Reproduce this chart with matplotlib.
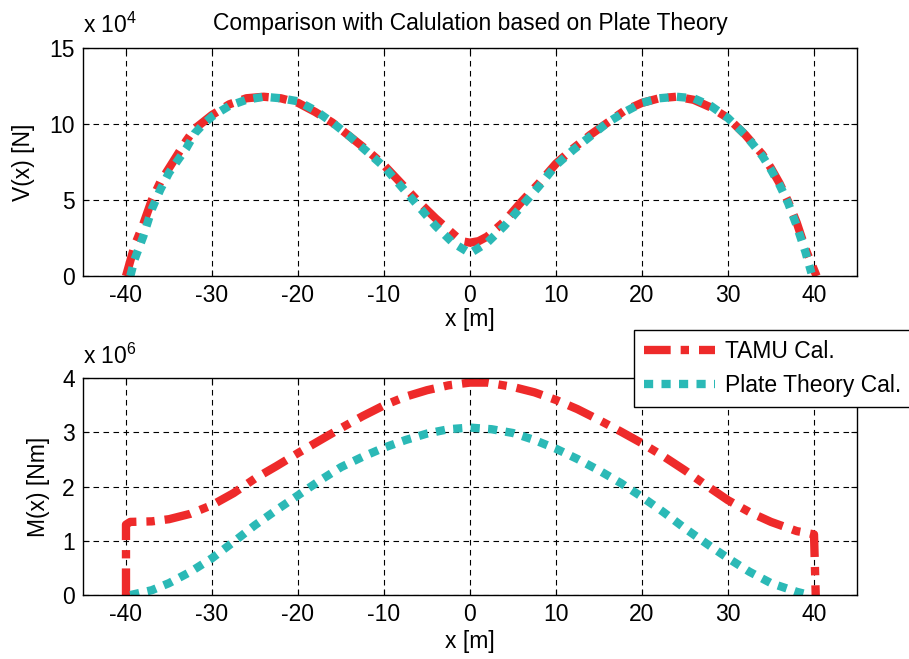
import numpy as np
import matplotlib
matplotlib.use("Agg")
import matplotlib.pyplot as plt

plt.rcParams['font.family'] = ['Liberation Sans', 'DejaVu Sans']
plt.rcParams['font.size'] = 16.5
plt.rcParams['axes.unicode_minus'] = False
plt.rcParams['mathtext.fontset'] = 'custom'
plt.rcParams['mathtext.rm'] = 'Liberation Sans'

red = '#ee2a2a'
teal = '#2bb9b6'

# shear force V(x), units of 1e4 N
xv_tamu = [-40, -39, -38, -37, -36, -35, -34, -33, -32, -30, -28, -26, -24, -22,
           -20, -18, -16, -14, -12, -10, -8, -6, -4, -2, -1, 0, 1, 2, 4, 6, 8,
           10, 12, 14, 16, 18, 20, 22, 24, 26, 28, 30, 32, 34, 35, 36, 37, 38,
           39, 40.3]
v_tamu = [0, 2.0, 3.4, 5.0, 6.2, 7.1, 8.0, 8.9, 9.7, 10.6, 11.3, 11.7, 11.8, 11.7,
          11.4, 10.8, 10.1, 9.2, 8.3, 7.3, 6.1, 4.9, 3.8, 2.8, 2.3, 2.2, 2.3, 2.6,
          3.6, 4.9, 6.1, 7.4, 8.4, 9.3, 10.1, 10.9, 11.4, 11.7, 11.8, 11.6, 11.1,
          10.4, 9.3, 8.0, 7.1, 6.1, 4.9, 3.5, 1.8, 0]

xv_plate = [-39.5, -39, -38, -37, -36, -35, -34, -33, -32, -31, -30, -28, -26,
            -24, -22, -20, -18, -16, -14, -12, -10, -8, -6, -4, -2, 0, 2, 4, 6,
            8, 10, 12, 14, 16, 18, 20, 22, 24, 26, 28, 30, 32, 34, 35, 36, 37,
            38, 39, 39.7]
v_plate = [0, 1.1, 2.6, 4.4, 5.7, 6.8, 7.6, 8.4, 9.4, 10.0, 10.5, 11.2, 11.6,
           11.8, 11.7, 11.5, 10.9, 10.1, 9.2, 8.2, 7.2, 5.9, 4.6, 3.3, 2.2, 1.5,
           2.2, 3.3, 4.6, 5.9, 7.3, 8.3, 9.2, 10.1, 10.8, 11.4, 11.7, 11.8, 11.7,
           11.2, 10.4, 9.3, 7.9, 7.0, 6.0, 4.8, 3.3, 1.6, 0.2]

# bending moment M(x), units of 1e6 Nm
xm_tamu = [-40, -40, -39.5, -37, -35, -32.5, -30, -27.5, -25, -22.5, -20, -17.5,
           -15, -12.5, -10, -7.5, -5, -2.5, 0, 2, 5, 7.5, 10, 12.5, 15, 17.5, 20,
           22.5, 25, 27.5, 30, 32.5, 35, 38, 40, 40.2]
m_tamu = [0, 1.3, 1.35, 1.36, 1.4, 1.5, 1.66, 1.88, 2.15, 2.38, 2.62, 2.85, 3.08,
          3.3, 3.5, 3.66, 3.78, 3.87, 3.92, 3.92, 3.84, 3.74, 3.6, 3.43, 3.23, 3.02,
          2.8, 2.56, 2.3, 2.02, 1.75, 1.53, 1.35, 1.18, 1.12, 0]

xm_plate = [-39.5, -37, -35, -32.5, -30, -27.5, -25, -22.5, -20, -17.5, -15,
            -12.5, -10, -7.5, -5, -2.5, 0, 2.5, 5, 7.5, 10, 12.5, 15, 17.5, 20,
            22.5, 25, 27.5, 30, 32.5, 35, 38, 39.5]
m_plate = [0, 0.09, 0.22, 0.43, 0.68, 0.98, 1.29, 1.57, 1.84, 2.11, 2.36, 2.55,
           2.72, 2.86, 2.98, 3.06, 3.09, 3.06, 2.99, 2.86, 2.7, 2.51, 2.3, 2.07,
           1.81, 1.53, 1.23, 0.95, 0.68, 0.43, 0.22, 0.06, 0]

fig = plt.figure(figsize=(9.09, 6.59), dpi=100, facecolor='white')
ax1 = fig.add_axes([0.0913, 0.581, 0.8515, 0.346])
ax2 = fig.add_axes([0.0913, 0.097, 0.8515, 0.329])

tamu_style = dict(color=red, lw=6, dashes=(3.2, 1.2, 1.0, 1.2))
plate_style = dict(color=teal, lw=6, dashes=(1.1, 1.0))

ax1.plot(xv_tamu, v_tamu, label='TAMU Cal.', **tamu_style)
ax1.plot(xv_plate, v_plate, label='Plate Theory Cal.', **plate_style)
ax2.plot(xm_tamu, m_tamu, label='TAMU Cal.', **tamu_style)
ax2.plot(xm_plate, m_plate, label='Plate Theory Cal.', **plate_style)

for ax in (ax1, ax2):
    ax.set_xlim(-45, 45)
    ax.set_xticks(np.arange(-40, 41, 10))
    ax.grid(True, color='black', linestyle=(0, (5, 4)), linewidth=0.8)
    ax.tick_params(direction='in', top=True, right=True, length=4, width=0.8,
                   pad=6)
    for s in ax.spines.values():
        s.set_linewidth(1.0)
    ax.set_xlabel('x [m]')

ax1.set_ylim(0, 15)
ax1.set_yticks([0, 5, 10, 15])
ax1.set_ylabel('V(x) [N]')
ax1.yaxis.set_label_coords(-0.062, 0.5)
ax1.xaxis.set_label_coords(0.5, -0.14)
ax1.text(0, 1.045, r'x 10$^4$', transform=ax1.transAxes, ha='left', va='bottom')
ax1.set_title('Comparison with Calulation based on Plate Theory', fontsize=16.5,
              pad=13)

ax2.set_ylim(0, 4)
ax2.set_yticks([0, 1, 2, 3, 4])
ax2.set_ylabel('M(x) [Nm]')
ax2.yaxis.set_label_coords(-0.043, 0.5)
ax2.xaxis.set_label_coords(0.5, -0.161)
ax2.text(0, 1.045, r'x 10$^6$', transform=ax2.transAxes, ha='left', va='bottom')

leg = ax2.legend(loc='upper left', bbox_to_anchor=(0.6975, 0.4993),
                 bbox_transform=fig.transFigure, borderaxespad=0,
                 fancybox=False, framealpha=1, edgecolor='black',
                 handlelength=3.1, handletextpad=0.4, borderpad=0.45,
                 labelspacing=0.45)
leg.get_frame().set_linewidth(1.0)

plt.savefig('out.png', dpi=100, facecolor='white')
plt.close('all')
